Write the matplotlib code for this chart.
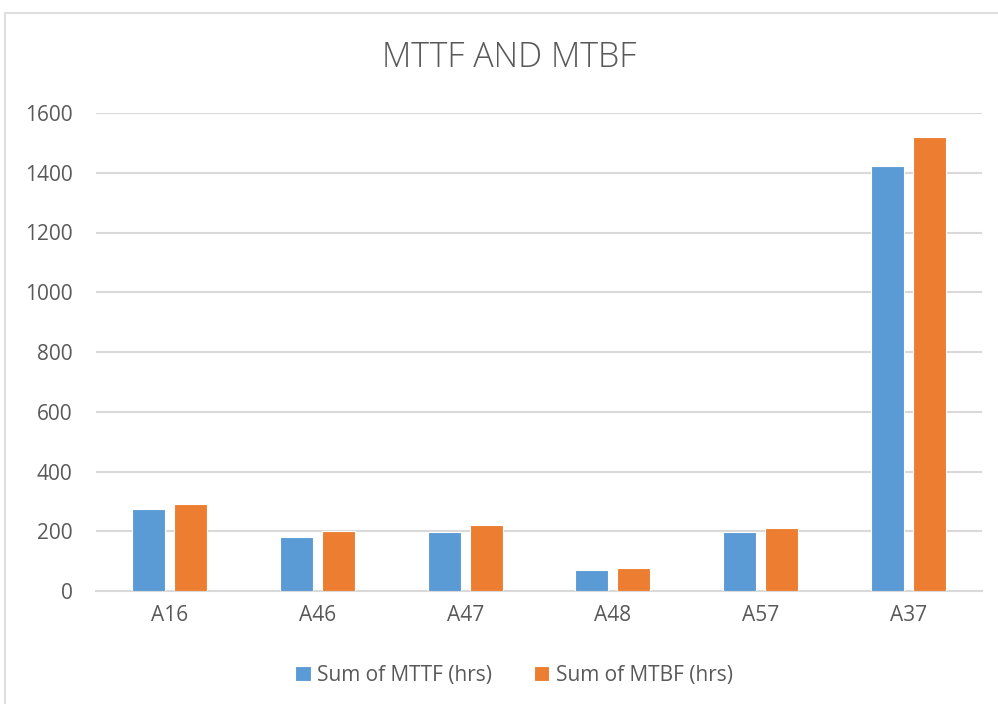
import numpy as np
import matplotlib
matplotlib.use("Agg")
import matplotlib.pyplot as plt
from matplotlib.patches import Rectangle

categories = ["A16", "A46", "A47", "A48", "A57", "A37"]
mttf = [273, 181, 199, 70, 197, 1421]
mtbf = [292, 202, 222, 78, 210, 1521]
series_labels = ["Sum of MTTF (hrs)", "Sum of MTBF (hrs)"]
y_ticks = [0, 200, 400, 600, 800, 1000, 1200, 1400, 1600]

BLUE = "#5B9BD5"
ORANGE = "#ED7D31"
GRID = "#D9D9D9"
TEXT = "#595959"

plt.rcParams["font.family"] = ["Open Sans", "DejaVu Sans"]

fig = plt.figure(figsize=(9.98, 7.04), dpi=100)
ax = fig.add_axes([96 / 998, 1 - 591 / 704, 886 / 998, 478 / 704])

# chart border like the spreadsheet chart frame
fig.patches.append(Rectangle((5 / 998, -0.1), 1.2, 1.1 - 13 / 704,
                             transform=fig.transFigure, fill=False,
                             edgecolor=GRID, linewidth=1.2))

x = np.arange(len(categories))
w = 0.224
off = 0.142
ax.bar(x - off, mttf, w, color=BLUE, edgecolor="white", linewidth=0.8,
       label=series_labels[0], zorder=3)
ax.bar(x + off, mtbf, w, color=ORANGE, edgecolor="white", linewidth=0.8,
       label=series_labels[1], zorder=3)

ax.set_xlim(-0.5, len(categories) - 0.5)
ax.set_ylim(0, 1600)
ax.set_yticks(y_ticks)
ax.set_xticks(x)
ax.set_xticklabels(categories)
ax.yaxis.grid(True, color=GRID, linewidth=1.5, zorder=0)
for s in ["top", "right", "left"]:
    ax.spines[s].set_visible(False)
ax.spines["bottom"].set_color(GRID)
ax.spines["bottom"].set_linewidth(1.5)
ax.tick_params(axis="both", length=0, labelsize=15, colors=TEXT)
ax.tick_params(axis="y", pad=17)
ax.tick_params(axis="x", pad=10)

fig.text(0.51, 1 - 58 / 704, "MTTF AND MTBF", ha="center", va="center",
         fontsize=24.5, color=TEXT, fontweight="light")

fig.legend(loc="center", bbox_to_anchor=(0.515, 1 - 675 / 704), ncol=2,
           frameon=False, fontsize=15, labelcolor=TEXT, handlelength=0.75,
           handleheight=0.75, handletextpad=0.3, columnspacing=2.0)

fig.savefig("out.png", dpi=100)
